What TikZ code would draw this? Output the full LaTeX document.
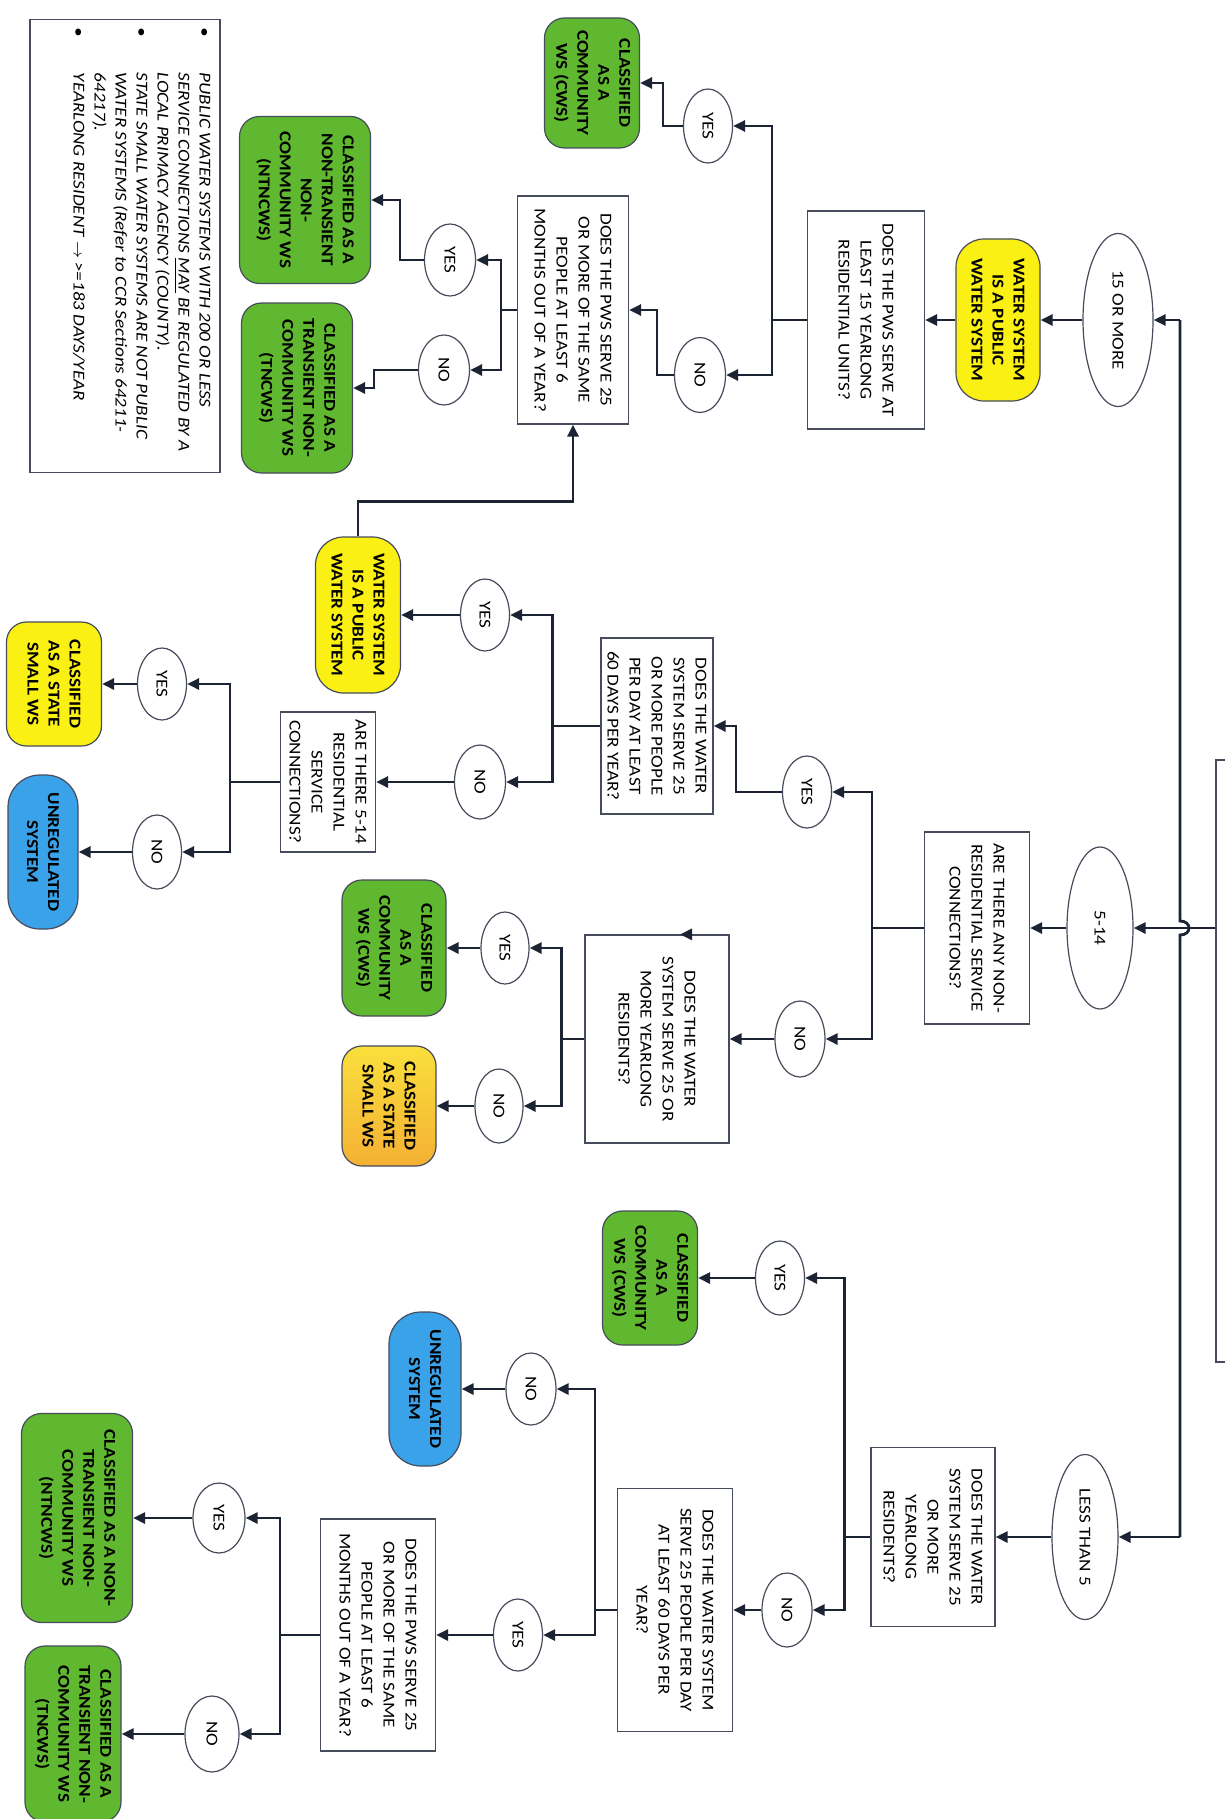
\documentclass[tikz,border=0pt]{standalone}
\usepackage{fontspec}
\setmainfont{Carlito}[FakeStretch=1.15]
\usepackage{tikz}
\usetikzlibrary{shapes.geometric,arrows.meta}
\definecolor{linec}{RGB}{28,36,52}
\definecolor{edgec}{RGB}{70,76,92}
\definecolor{cwsgreen}{RGB}{96,184,48}
\definecolor{pwsyellow}{RGB}{250,240,20}
\definecolor{unregblue}{RGB}{58,162,232}
\definecolor{smallorange}{RGB}{244,176,52}
\definecolor{smallyellow}{RGB}{250,224,60}
\begin{document}
\begin{tikzpicture}[rotate=-90, transform shape, x=0.5pt, y=0.5pt,
  flow/.style={draw=linec, line width=1.4pt},
  arr/.style={flow, -{Triangle[length=6pt,width=5.5pt]}},
  qbox/.style={draw=edgec, line width=0.6pt, rectangle, align=center, inner sep=1pt, font=\fontsize{8.3}{11}\selectfont},
  oval/.style={draw=edgec, line width=0.6pt, ellipse, inner sep=0pt, font=\fontsize{8.3}{10}\selectfont},
  term/.style={draw=edgec, line width=0.6pt, rounded corners=10pt, align=center, inner sep=1pt, font=\fontsize{8.3}{10.5}\selectfont\bfseries},
  greenterm/.style={term, fill=cwsgreen},
  yellowterm/.style={term, fill=pwsyellow, rounded corners=14pt},
  blueterm/.style={term, fill=unregblue, rounded corners=16pt},
  orangeterm/.style={term, top color=smallyellow, bottom color=smallorange}]
\useasboundingbox[fill=white] (0,0) rectangle (1819,1225);

% root (cut off at the edge) and trunk
\node (root) [draw=edgec, line width=0.6pt, minimum width=301pt, minimum height=42pt] at (1061,1258) {};
\coordinate (trunkA) at (320,1180);
\coordinate (trunkB) at (1537,1180);
\draw[flow] (trunkA) -- (921,1180) .. controls (921,1192) and (935,1192) .. (935,1180) -- (trunkB);

% 15 or more
\node (more) [oval, minimum width=86.5pt, minimum height=35pt] at (320,1118) {15 OR MORE};
\node (pub1) [yellowterm, minimum width=81pt, minimum height=42pt] at (320,998) {WATER SYSTEM\\IS A PUBLIC\\WATER SYSTEM};
\node (q15) [qbox, minimum width=109pt, minimum height=58.5pt] at (320,866) {DOES THE PWS SERVE AT\\LEAST 15 YEARLONG\\RESIDENTIAL UNITS?};
\node (yes1) [oval, minimum width=37pt, minimum height=24.5pt] at (126,708) {YES};
\node (no1) [oval, minimum width=37.5pt, minimum height=25.5pt] at (375,700) {NO};
\node (cws1) [greenterm, minimum width=65pt, minimum height=47.5pt] at (83,592) {CLASSIFIED\\AS A\\COMMUNITY\\WS (CWS)};
\node (pws1) [qbox, minimum width=114pt, minimum height=55.5pt] at (310,573) {DOES THE PWS SERVE 25\\OR MORE OF THE SAME\\PEOPLE AT LEAST 6\\MONTHS OUT OF A YEAR?};
\node (yes2) [oval, minimum width=36pt, minimum height=25.5pt] at (260,450) {YES};
\node (no2) [oval, minimum width=35pt, minimum height=25.5pt] at (370,444) {NO};
\node (ntn1) [greenterm, minimum width=83.5pt, minimum height=65.5pt] at (200,305) {CLASSIFIED AS A\\NON-TRANSIENT\\NON-\\COMMUNITY WS\\(NTNCWS)};
\node (tn1) [greenterm, minimum width=85pt, minimum height=55.5pt] at (388,297) {CLASSIFIED AS A\\TRANSIENT NON-\\COMMUNITY WS\\(TNCWS)};

\draw[arr] (trunkA) -- (more);
\draw[arr] (more) -- (pub1);
\draw[arr] (pub1) -- (q15);
\draw[arr] (q15.south) -- ++(0,-35) -| (yes1.north);
\draw[arr] (q15.south) -- ++(0,-35) -| (no1.north);
\draw[arr] (yes1.south) -- ++(0,-20) -| (cws1.north);
\draw[arr] (no1.south) -- ++(0,-17) -| (pws1.north);
\draw[arr] (pws1.south) -- ++(0,-16) -| (yes2.north);
\draw[arr] (pws1.south) -- ++(0,-16) -| (no2.north);
\draw[arr] (yes2.south) -- ++(0,-24) -| (ntn1.north);
\draw[arr] (no2.south) -- ++(0,-44) -| (tn1.north);

% note
\node (note) [draw=edgec, line width=0.6pt, minimum width=226.5pt, minimum height=95pt] at (246,125) {};
\node (notetext) [anchor=north west, inner sep=0pt, font=\fontsize{8.3}{10.5}\selectfont\itshape] at ([xshift=4pt,yshift=-3pt]note.north west) {%
\begin{tabular}{@{}l@{\hspace{18pt}}l@{}}
\textbullet & PUBLIC WATER SYSTEMS WITH 200 OR LESS\\
 & SERVICE CONNECTIONS \underline{MAY} BE REGULATED BY A\\
 & LOCAL PRIMACY AGENCY (COUNTY).\\
\textbullet & STATE SMALL WATER SYSTEMS ARE NOT PUBLIC\\
 & WATER SYSTEMS (Refer to CCR Sections 64211-\\
 & 64217).\\
\textbullet & YEARLONG RESIDENT $\rightarrow$ >=183 DAYS/YEAR
\end{tabular}};

% 5-14
\node (range) [oval, minimum width=81pt, minimum height=33pt] at (928,1100) {5-14};
\node (nonres) [qbox, minimum width=96pt, minimum height=52.5pt] at (928,977) {ARE THERE ANY NON-\\RESIDENTIAL SERVICE\\CONNECTIONS?};
\node (yes3) [oval, minimum width=36pt, minimum height=24.5pt] at (792,807) {YES};
\node (no3) [oval, minimum width=38pt, minimum height=25pt] at (1039,800) {NO};
\node (q25) [qbox, minimum width=88pt, minimum height=56pt] at (726,657) {DOES THE WATER\\SYSTEM SERVE 25\\OR MORE PEOPLE\\PER DAY AT LEAST\\60 DAYS PER YEAR?};
\node (yes4) [oval, minimum width=36pt, minimum height=24.5pt] at (615,485) {YES};
\node (no4) [oval, minimum width=37pt, minimum height=25.5pt] at (782,480) {NO};
\node (pub2) [yellowterm, minimum width=78pt, minimum height=42.5pt] at (615,358) {WATER SYSTEM\\IS A PUBLIC\\WATER SYSTEM};
\node (res514) [qbox, minimum width=70pt, minimum height=47.5pt] at (782,328) {ARE THERE 5-14\\RESIDENTIAL\\SERVICE\\CONNECTIONS?};
\node (yes5) [oval, minimum width=36pt, minimum height=24.5pt] at (684,162) {YES};
\node (no5) [oval, minimum width=37pt, minimum height=24.5pt] at (852,157) {NO};
\node (small1) [yellowterm, rounded corners=10pt, minimum width=62pt, minimum height=47.5pt] at (684,54) {CLASSIFIED\\AS A STATE\\SMALL WS};
\node (unreg1) [blueterm, minimum width=77pt, minimum height=35pt] at (852,43) {UNREGULATED\\SYSTEM};
\node (qyr) [qbox, minimum width=104pt, minimum height=72pt] at (1039,657) {DOES THE WATER\\SYSTEM SERVE 25 OR\\MORE YEARLONG\\RESIDENTS?};
\node (yes6) [oval, minimum width=36pt, minimum height=24pt] at (948,505) {YES};
\node (no6) [oval, minimum width=37pt, minimum height=24pt] at (1106,499) {NO};
\node (cws2) [greenterm, minimum width=68pt, minimum height=52pt] at (948,394) {CLASSIFIED\\AS A\\COMMUNITY\\WS (CWS)};
\node (small2) [orangeterm, minimum width=60pt, minimum height=47pt] at (1106,389) {CLASSIFIED\\AS A STATE\\SMALL WS};

\draw[arr] (root.south -| range.north) -- (range.north);
\draw[arr] (range) -- (nonres);
\draw[arr] (nonres.south) -- ++(0,-52) -| (yes3.north);
\draw[arr] (nonres.south) -- ++(0,-52) -| (no3.north);
\draw[arr] (yes3.south) -- ++(0,-46) -| (q25.north);
\draw[arr] (no3) -- (qyr);
\draw[arr] (q25.south) -- ++(0,-48) -| (yes4.north);
\draw[arr] (q25.south) -- ++(0,-48) -| (no4.north);
\draw[arr] (yes4) -- (pub2);
\draw[arr] (no4) -- (res514);
\draw[arr] (pub2.west) -- ++(-35,0) |- (pws1.east);
\draw[arr] (res514.south) -- ++(0,-50) -| (yes5.north);
\draw[arr] (res514.south) -- ++(0,-50) -| (no5.north);
\draw[arr] (yes5) -- (small1);
\draw[arr] (no5) -- (unreg1);
\draw[arr] (qyr.south) -- ++(0,-23) -| (yes6.north);
\draw[arr] (qyr.south) -- ++(0,-23) -| (no6.north);
\draw[arr] (yes6) -- (cws2);
\draw[arr] (no6) -- (small2);
\draw[arr] (qyr.west) ++(0,35) -- ++(0,-12);

% less than 5
\node (less) [oval, minimum width=82.5pt, minimum height=33pt] at (1537,1085) {LESS THAN 5};
\node (qyr2) [qbox, minimum width=89.5pt, minimum height=62pt] at (1537,933) {DOES THE WATER\\SYSTEM SERVE 25\\OR MORE\\YEARLONG\\RESIDENTS?};
\node (yes7) [oval, minimum width=37pt, minimum height=24.5pt] at (1278,780) {YES};
\node (no7) [oval, minimum width=37pt, minimum height=25pt] at (1610,787) {NO};
\node (cws3) [greenterm, minimum width=67pt, minimum height=47.5pt] at (1278,650) {CLASSIFIED\\AS A\\COMMUNITY\\WS (CWS)};
\node (q60) [qbox, minimum width=121.5pt, minimum height=57.5pt] at (1610,675) {DOES THE WATER SYSTEM\\SERVE 25 PEOPLE PER DAY\\AT LEAST 60 DAYS PER\\YEAR?};
\node (no8) [oval, minimum width=36pt, minimum height=25pt] at (1389,531) {NO};
\node (yes8) [oval, minimum width=36pt, minimum height=24.5pt] at (1635,518) {YES};
\node (unreg2) [blueterm, minimum width=77pt, minimum height=36pt] at (1389,425) {UNREGULATED\\SYSTEM};
\node (pws2) [qbox, minimum width=116pt, minimum height=57.5pt] at (1635,378) {DOES THE PWS SERVE 25\\OR MORE OF THE SAME\\PEOPLE AT LEAST 6\\MONTHS OUT OF A YEAR?};
\node (yes9) [oval, minimum width=35pt, minimum height=26pt] at (1518,219) {YES};
\node (no9) [oval, minimum width=38pt, minimum height=27pt] at (1734,212) {NO};
\node (ntn2) [greenterm, minimum width=104.5pt, minimum height=55.5pt] at (1518,77) {CLASSIFIED AS A NON-\\TRANSIENT NON-\\COMMUNITY WS\\(NTNCWS)};
\node (tn2) [greenterm, minimum width=88pt, minimum height=48pt] at (1734,73) {CLASSIFIED AS A\\TRANSIENT NON-\\COMMUNITY WS\\(TNCWS)};

\draw[arr] (trunkB) -- (less);
\draw[arr] (less) -- (qyr2);
\draw[arr] (qyr2.south) -- ++(0,-26) -| (yes7.north);
\draw[arr] (qyr2.south) -- ++(0,-26) -| (no7.north);
\draw[arr] (yes7) -- (cws3);
\draw[arr] (no7) -- (q60);
\draw[arr] (q60.south) -- ++(0,-22) -| (no8.north);
\draw[arr] (q60.south) -- ++(0,-22) -| (yes8.north);
\draw[arr] (no8) -- (unreg2);
\draw[arr] (yes8) -- (pws2);
\draw[arr] (pws2.south) -- ++(0,-40) -| (yes9.north);
\draw[arr] (pws2.south) -- ++(0,-40) -| (no9.north);
\draw[arr] (yes9) -- (ntn2);
\draw[arr] (no9) -- (tn2);
\end{tikzpicture}
\end{document}
